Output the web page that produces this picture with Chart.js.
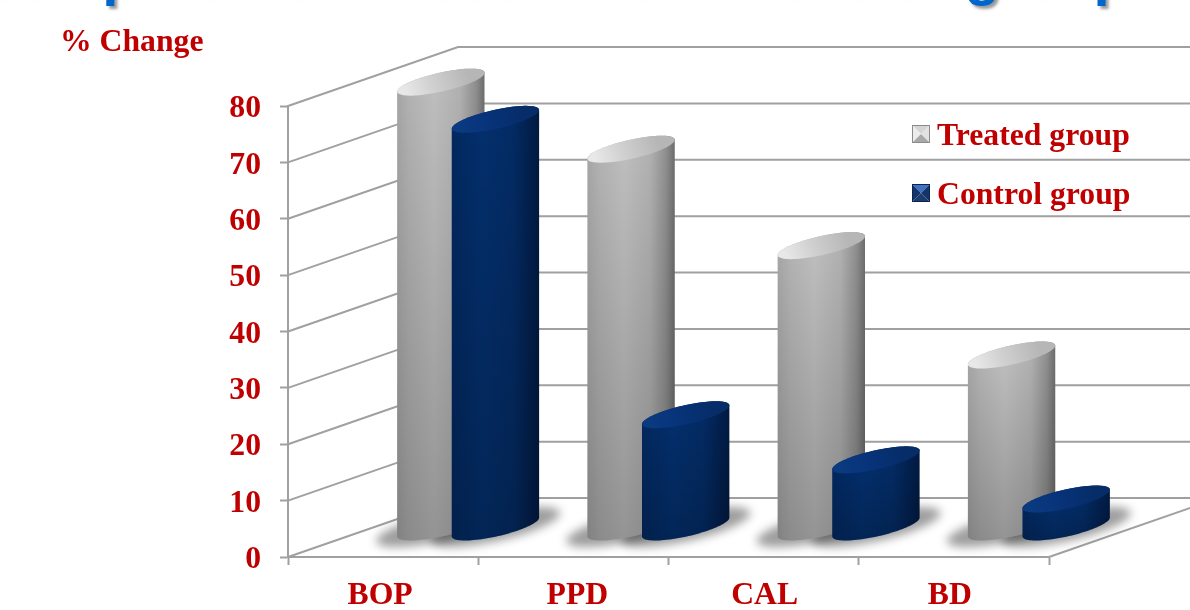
<!DOCTYPE html>
<html>
<head>
<meta charset="utf-8">
<title>% Change</title>
<style>
    html, body { margin: 0; padding: 0; background: #fff; overflow: hidden; }
    canvas { display: block; }
</style>
<script src="https://cdn.jsdelivr.net/npm/chart.js@4"></script>
</head>
<body>
<canvas id="chart" width="1190" height="610"></canvas>
<script>
const categories = ['BOP', 'PPD', 'CAL', 'BD'];
const treatedValues = [79, 67.1, 50, 30.6];
const controlValues = [72.4, 20, 12, 5.05];
const yTicks = [0, 10, 20, 30, 40, 50, 60, 70, 80];
const headingText = 'compared to those of the control group:';
const unitText = '% Change';

const red = '#c00000';
const gridColor = '#a0a0a0';
const serif = '"Liberation Serif", "Times New Roman", serif';
const labelFont = `bold 31.7px ${serif}`;

// floor depth of the fake 3D box, in pixels
const depthX = 170;
const depthY = 59;

// category labels do not sit quite centred under their slots
const categoryNudge = [-3, 4, 1, -4];

const cylinderStyles = [
    {
        side: [[0, '#a6a6a6'], [0.14, '#b2b2b2'], [0.42, '#bebebe'], [0.72, '#b0b0b0'], [0.9, '#8e8e8e'], [1, '#6c6c6c']],
        cap: ['#e8e8e8', '#cfcfcf', '#b6b6b6'],
        bottomShade: 'rgba(0, 0, 0, 0.22)',
        bevel: ['#d4d4d4', '#ececec', '#e2e2e2', '#a8a8a8'],
        rim: '#8c8c8c',
    },
    {
        side: [[0, '#02285f'], [0.35, '#032f6c'], [0.7, '#032b64'], [0.9, '#021f4c'], [1, '#011a40']],
        cap: ['#0a3a80', '#08337a', '#062d68'],
        bottomShade: 'rgba(0, 0, 0, 0.2)',
        bevel: ['#3f72c2', '#14356b', '#14356b', '#1c3c70'],
        rim: '#0c2450',
    },
];

// walks round a disc lying on the floor; the disc is sheared along the depth direction
function floorDisc(ctx, el, cx, cy, scale, from, to, start) {
    const a = el.width * 0.359 * scale;
    const bx = el.width * 0.348 * scale;
    const by = 13.5 * scale;
    const steps = 48;
    for (let i = 0; i <= steps; i++) {
        const t = from + (to - from) * i / steps;
        const x = cx + a * Math.cos(t) + bx * Math.sin(t);
        const y = cy - by * Math.sin(t);
        if (i === 0 && start) {
            ctx.moveTo(x, y);
        } else {
            ctx.lineTo(x, y);
        }
    }
}

const leftAngle = Math.atan2(-0.348, -0.359);
const rightAngle = leftAngle + Math.PI;

function drawFloorShadow(ctx, el) {
    const cx = el.x + depthX / 2;
    const base = el.base - depthY / 2;
    ctx.save();
    ctx.filter = 'blur(5px)';
    ctx.fillStyle = 'rgba(0, 0, 0, 0.38)';
    ctx.beginPath();
    floorDisc(ctx, el, cx, base, 1.48, 0, Math.PI * 2, true);
    ctx.fill();
    ctx.restore();
}

function drawCylinder(ctx, el, style) {
    const cx = el.x + depthX / 2;
    const top = el.y - depthY / 2;
    const base = el.base - depthY / 2;
    const halfWidth = el.width / 2;

    ctx.beginPath();
    floorDisc(ctx, el, cx, base, 1, leftAngle, rightAngle, true);
    floorDisc(ctx, el, cx, top, 1, rightAngle, leftAngle + Math.PI * 2, false);
    ctx.closePath();

    const side = ctx.createLinearGradient(cx - halfWidth, 0, cx + halfWidth, 0);
    style.side.forEach(([stop, color]) => side.addColorStop(stop, color));
    ctx.fillStyle = side;
    ctx.fill();

    const shade = ctx.createLinearGradient(0, top, 0, base + 12);
    shade.addColorStop(0, 'rgba(0, 0, 0, 0)');
    shade.addColorStop(1, style.bottomShade);
    ctx.fillStyle = shade;
    ctx.fill();

    ctx.beginPath();
    floorDisc(ctx, el, cx, top, 1, 0, Math.PI * 2, true);
    ctx.closePath();
    const cap = ctx.createLinearGradient(cx - halfWidth * 0.8, top + 12, cx + halfWidth * 0.6, top - 10);
    cap.addColorStop(0, style.cap[0]);
    cap.addColorStop(0.45, style.cap[1]);
    cap.addColorStop(1, style.cap[2]);
    ctx.fillStyle = cap;
    ctx.fill();
}

function drawBevelSwatch(ctx, x, y, size, style) {
    const corners = [[x, y], [x + size, y], [x + size, y + size], [x, y + size]];
    const order = [[0, 1], [3, 0], [1, 2], [2, 3]];
    order.forEach(([from, to], i) => {
        ctx.fillStyle = style.bevel[i];
        ctx.beginPath();
        ctx.moveTo(corners[from][0], corners[from][1]);
        ctx.lineTo(corners[to][0], corners[to][1]);
        ctx.lineTo(x + size / 2, y + size / 2);
        ctx.closePath();
        ctx.fill();
    });
    ctx.strokeStyle = style.rim;
    ctx.lineWidth = 1;
    ctx.strokeRect(x + 0.5, y + 0.5, size - 1, size - 1);
}

const boxWalls = {
    id: 'boxWalls',
    beforeDatasetsDraw(chart) {
        const { ctx, scales, chartArea } = chart;
        ctx.save();
        ctx.strokeStyle = gridColor;
        ctx.lineWidth = 2;
        yTicks.forEach((tick) => {
            const y = scales.y.getPixelForValue(tick);
            ctx.beginPath();
            ctx.moveTo(chartArea.left, y);
            ctx.lineTo(chartArea.left + depthX, y - depthY);
            ctx.lineTo(chartArea.right + depthX, y - depthY);
            ctx.stroke();
        });
        ctx.beginPath();
        ctx.moveTo(chartArea.right, chartArea.bottom);
        ctx.lineTo(chartArea.right + depthX, chartArea.bottom - depthY);
        ctx.stroke();
        ctx.restore();
    },
};

const cylinders = {
    id: 'cylinders',
    afterDatasetsDraw(chart) {
        const { ctx } = chart;
        const metas = chart.data.datasets.map((_, i) => chart.getDatasetMeta(i));
        categories.forEach((_, c) => {
            metas.forEach((meta) => drawFloorShadow(ctx, meta.data[c]));
            metas.forEach((meta, d) => drawCylinder(ctx, meta.data[c], cylinderStyles[d]));
        });
    },
};

const sideTexts = {
    id: 'sideTexts',
    afterDraw(chart) {
        const { ctx, scales } = chart;
        ctx.save();

        // heading running off the top edge of the page
        ctx.save();
        ctx.font = 'bold 58px "Liberation Sans", Arial, sans-serif';
        ctx.wordSpacing = '10px';
        ctx.textBaseline = 'alphabetic';
        ctx.fillStyle = '#0066cc';
        ctx.shadowColor = 'rgba(0, 0, 0, 0.4)';
        ctx.shadowOffsetX = 3;
        ctx.shadowOffsetY = 3;
        ctx.shadowBlur = 3;
        ctx.fillText(headingText, -17, -6);
        ctx.restore();

        ctx.font = labelFont;
        ctx.fillStyle = red;
        ctx.textBaseline = 'alphabetic';
        ctx.fillText(unitText, 60, 51);

        chart.data.datasets.forEach((dataset, i) => {
            const y = 125 + i * 59;
            drawBevelSwatch(ctx, 912, y, 18, cylinderStyles[i]);
            ctx.fillStyle = red;
            ctx.fillText(dataset.label, 937, y + 20);
        });

        // axis numbers hang a little below their tick marks
        ctx.textBaseline = 'middle';
        ctx.textAlign = 'right';
        yTicks.forEach((tick) => {
            ctx.fillText(String(tick), 261, scales.y.getPixelForValue(tick) + 3);
        });
        ctx.textAlign = 'center';
        categories.forEach((label, i) => {
            ctx.fillText(label, scales.x.getPixelForValue(i) + categoryNudge[i], 596);
        });
        ctx.restore();
    },
};

new Chart(document.getElementById('chart'), {
    type: 'bar',
    data: {
        labels: categories,
        datasets: [
            { label: 'Treated group', data: treatedValues, backgroundColor: 'rgba(0, 0, 0, 0)' },
            { label: 'Control group', data: controlValues, backgroundColor: 'rgba(0, 0, 0, 0)' },
        ],
    },
    plugins: [boxWalls, cylinders, sideTexts],
    options: {
        responsive: false,
        animation: false,
        layout: { padding: { top: 106, right: 141 } },
        datasets: { bar: { categoryPercentage: 0.574, barPercentage: 1.6 } },
        plugins: {
            legend: { display: false },
            tooltip: { enabled: false },
        },
        scales: {
            x: {
                afterFit: (scale) => { scale.height = 53; },
                border: { color: gridColor, width: 2 },
                grid: { drawOnChartArea: false, tickColor: gridColor, tickWidth: 2, tickLength: 8 },
                ticks: { display: false },
            },
            y: {
                min: 0,
                max: 80,
                afterFit: (scale) => { scale.width = 288; },
                afterBuildTicks: (scale) => { scale.ticks = yTicks.map((value) => ({ value })); },
                border: { color: gridColor, width: 2 },
                grid: { drawOnChartArea: false, tickColor: gridColor, tickWidth: 2, tickLength: 8 },
                ticks: { display: false },
            },
        },
    },
});
</script>
</body>
</html>
